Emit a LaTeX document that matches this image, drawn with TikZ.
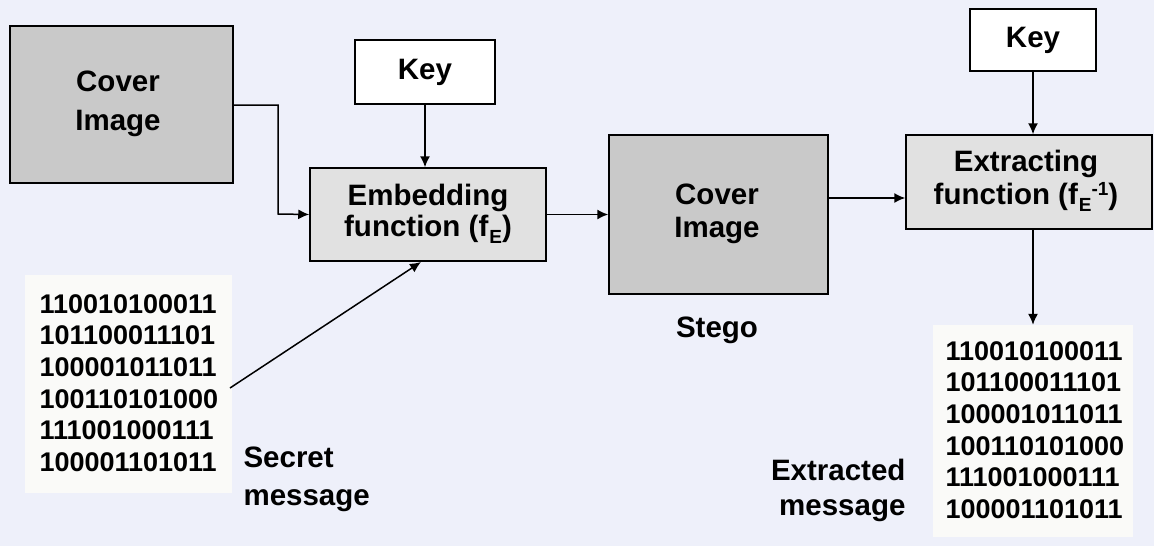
\documentclass[tikz,border=0pt]{standalone}
\usepackage{fontspec}
\setmainfont{Liberation Sans}
\usetikzlibrary{arrows.meta}
\definecolor{bgc}{HTML}{EEF0FA}
\definecolor{darkbox}{HTML}{C9C9C9}
\definecolor{lightbox}{HTML}{E1E1E1}
\definecolor{msgbg}{HTML}{FAFAF8}
\tikzset{
  lbl/.style={font=\bfseries\fontsize{29.5}{33}\selectfont, text=black},
  two/.style={align=center, font=\bfseries\fontsize{29.5}{#1}\selectfont},
  digits/.style={align=left, anchor=north west, font=\bfseries\fontsize{27}{31.6}\selectfont},
  boxdark/.style={draw=black, line width=1.5pt, fill=darkbox, inner sep=0pt},
  boxlight/.style={draw=black, line width=1.5pt, fill=lightbox, inner sep=0pt},
  boxwhite/.style={draw=black, line width=1.5pt, fill=white, inner sep=0pt},
  conn/.style={draw=black, line width=1.5pt, -{Latex[length=11pt,width=10pt]}},
  msg/.style={fill=msgbg, inner sep=0pt},
}
\newcommand{\subE}{\kern1pt\raisebox{-7pt}{\fontsize{19}{19}\selectfont E}}
\begin{document}
\begin{tikzpicture}[x=1pt,y=-1pt]
\useasboundingbox (0,0) rectangle (1154,546);
\fill[bgc] (0,0) rectangle (1154,546);
% boxes
\node[boxdark, minimum width=223pt, minimum height=157pt] (cover1) at (121.5,104.5) {};
\node[lbl, two=39] (cover1t) at (118,104) {Cover\\Image};
\node[boxwhite, minimum width=140pt, minimum height=64pt] (key1) at (425,72) {};
\node[lbl] (key1t) at (425,72) {Key};
\node[boxlight, minimum width=236pt, minimum height=93pt] (emb) at (428,214.5) {};
\node[lbl, two=31] (embt) at (428,214) {Embedding\\function (f\subE)};
\node[boxdark, minimum width=219pt, minimum height=159pt] (cover2) at (718.5,214.5) {};
\node[lbl, two=33] (cover2t) at (717,214) {Cover\\Image};
\node[lbl] (stego) at (717,330) {Stego};
\node[boxwhite, minimum width=126pt, minimum height=62pt] (key2) at (1033,40) {};
\node[lbl] (key2t) at (1033,40) {Key};
\node[boxlight, minimum width=246pt, minimum height=94pt] (ext) at (1029,182) {};
\node[lbl, two=33] (extt) at (1026,181) {Extracting\\function (f\subE\raisebox{9pt}{\fontsize{19}{19}\selectfont -1})};
% message blocks
\node[msg, minimum width=207pt, minimum height=218pt] (msg1) at (128.5,384) {};
\node[lbl, digits] (msg1t) at (36,291) {110010100011\\101100011101\\100001011011\\100110101000\\111001000111\\100001101011};
\node[msg, minimum width=200pt, minimum height=212pt] (msg2) at (1033,431) {};
\node[lbl, digits] (msg2t) at (942,338) {110010100011\\101100011101\\100001011011\\100110101000\\111001000111\\100001101011};
\node[lbl, align=left, anchor=west, font=\bfseries\fontsize{29.5}{38}\selectfont] (secret) at (240,479) {Secret\\message};
\node[lbl, align=right, anchor=east, font=\bfseries\fontsize{29.5}{35}\selectfont] (extracted) at (909,490) {Extracted\\message};
% connectors
\coordinate (m1out) at (230,388);
\coordinate (c1out) at (233,105);
\draw[conn] (c1out) -| (278,214) -- (emb.west);
\draw[conn] (key1.south) -- (key1.south |- emb.north);
\draw[conn] (m1out) -- (421,262);
\draw[conn] (emb.east) -- (cover2.west |- emb.east);
\draw[conn] (828,198) -- (ext.west |- 0,198);
\draw[conn] (key2.south) -- (ext.north -| key2.south);
\draw[conn] (ext.south -| key2.south) -- (msg2.north);
\end{tikzpicture}
\end{document}
